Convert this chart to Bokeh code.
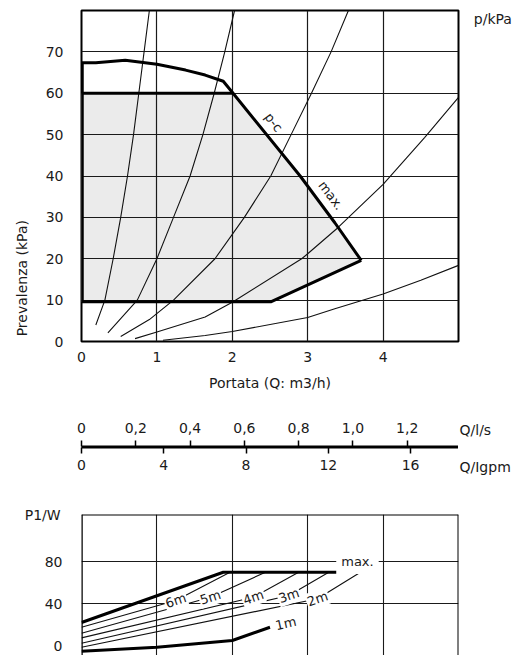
import math
from bokeh.plotting import figure
from bokeh.models import Range1d, LinearAxis, FixedTicker, Label, Span, CustomJSTickFormatter, Title
from bokeh.layouts import column, row
from bokeh.embed import file_html
from bokeh.resources import INLINE

FONT = "DejaVu Sans"
FS = "14px"
INK = "#1a1a1a"
LINE = "#111111"
SHADE = "#ebebeb"

# ---------------- top chart: Q (m3/h) vs H (kPa) ----------------
q_ticks = [0, 1, 2, 3, 4]
h_ticks = [0, 10, 20, 30, 40, 50, 60, 70]
q_grid = [1, 2, 3, 4]
h_grid = [10, 20, 30, 40, 50, 60, 70]
Q_MAX = 5
H_MAX = 80

sysA_q = [0.19, 0.31, 0.42, 0.52, 0.61, 0.69, 0.76, 0.83, 0.90]
sysA_h = [4.0, 10, 20, 30, 40, 50, 60, 70, 80]
sysB_q = [0.35, 0.74, 1.00, 1.22, 1.44, 1.61, 1.76, 1.90, 2.03]
sysB_h = [2.1, 10, 20, 30, 40, 50, 60, 70, 80]
sysC_q = [0.52, 0.90, 1.22, 1.77, 2.16, 2.51, 2.78, 3.05, 3.31, 3.54]
sysC_h = [1.2, 5.3, 10, 20, 30, 40, 50, 60, 70, 80]
sysD_q = [0.71, 1.00, 1.64, 2.00, 2.92, 3.00, 3.40, 4.00, 4.55, 5.00]
sysD_h = [0.7, 2.3, 5.9, 9.5, 20.0, 21.2, 27.5, 38.0, 49.3, 59.0]
sysE_q = [1.08, 1.64, 2.00, 3.00, 3.36, 4.00, 4.50, 5.00]
sysE_h = [0.3, 1.45, 2.4, 5.8, 7.9, 11.5, 14.8, 18.4]

max_q = [0.0, 0.19, 0.58, 1.00, 1.38, 1.64, 1.88, 2.01, 2.90, 3.36, 3.71]
max_h = [67.4, 67.4, 68.0, 67.0, 65.6, 64.4, 62.9, 60.0, 40.0, 28.7, 19.6]
pc_q = [0.0, 2.01]
pc_h = [60.0, 60.0]
min_q = [0.0, 2.51, 3.71]
min_h = [9.6, 9.6, 19.6]

# ---------------- flow scales ----------------
LS_PER_M3H = 1000.0 / 3600.0
IGPM_PER_M3H = 1000.0 / 4.54609 / 60.0
ls_ticks = [0, 0.2, 0.4, 0.6, 0.8, 1.0, 1.2]
igpm_ticks = [0, 4, 8, 12, 16]

# ---------------- bottom chart: Q (m3/h) vs P1 (W) ----------------
w_ticks = [0, 40, 80]
w_grid = [40, 80]
W_BOT, W_TOP = -9.5, 124.8

pmax_q = [0.0, 1.88, 3.70]
pmax_w = [21.9, 69.8, 69.8]
c6_q = [0.0, 1.25, 1.97]
c6_w = [17.4, 42.9, 69.8]
c5_q = [0.0, 1.71, 2.44]
c5_w = [11.7, 46.0, 69.8]
c4_q = [0.0, 2.28, 2.88]
c4_w = [7.3, 46.0, 69.8]
c3_q = [0.0, 2.75, 3.28]
c3_w = [2.2, 47.6, 69.8]
c2_q = [0.0, 3.13, 3.70]
c2_w = [-1.6, 44.5, 69.8]
c1_q = [0.0, 1.00, 2.00, 2.50]
c1_w = [-5.4, -1.6, 4.8, 17.4]

curve_labels = ["6m", "5m", "4m", "3m", "2m", "1m"]
curve_label_q = [1.25, 1.71, 2.28, 2.75, 3.13, 2.71]
curve_label_w = [42.9, 46.0, 46.0, 47.6, 44.5, 21.0]
curve_label_ang = [0.33, 0.31, 0.33, 0.33, 0.33, 0.22]


def style_axis(ax, standoff):
    ax.axis_line_color = None
    ax.major_tick_line_color = None
    ax.minor_tick_line_color = None
    ax.major_tick_out = 0
    ax.major_tick_in = 0
    ax.major_label_standoff = standoff
    ax.major_label_text_font = FONT
    ax.major_label_text_font_size = FS
    ax.major_label_text_color = INK


def label_style(ax, text, standoff):
    ax.axis_label = text
    ax.axis_label_text_font = FONT
    ax.axis_label_text_font_size = FS
    ax.axis_label_text_font_style = "normal"
    ax.axis_label_text_color = INK
    ax.axis_label_standoff = standoff


def try_set(obj, **kw):
    for k, v in kw.items():
        try:
            setattr(obj, k, v)
        except Exception:
            pass


def blank_panel(fw, fh, top_b, bot_b, xr, yr):
    f = figure(frame_width=fw, frame_height=fh, x_range=xr, y_range=yr,
               min_border_left=0, min_border_right=0, min_border_top=top_b, min_border_bottom=bot_b,
               x_axis_location=None, y_axis_location=None,
               toolbar_location=None, output_backend="svg")
    f.outline_line_color = None
    f.grid.visible = False
    return f


def text_title(text, align="left", offset=0, standoff=10, valign="bottom"):
    return Title(text=text, align=align, offset=offset, standoff=standoff, text_font=FONT,
                 text_font_size=FS, text_font_style="normal", text_color=INK,
                 vertical_align=valign)


# ======== TOP ========
top = figure(frame_width=377, frame_height=331,
             x_range=Range1d(0, Q_MAX), y_range=Range1d(0, H_MAX),
             min_border_left=49, min_border_right=2, min_border_top=10, min_border_bottom=59,
             toolbar_location=None, output_backend="svg")
top.outline_line_color = "black"
top.outline_line_width = 2
top.xaxis.ticker = FixedTicker(ticks=q_ticks)
top.yaxis.ticker = FixedTicker(ticks=h_ticks)
style_axis(top.xaxis[0], 10)
style_axis(top.yaxis[0], 18)
label_style(top.xaxis[0], "Portata (Q: m3/h)", 10)
top.xgrid.ticker = FixedTicker(ticks=q_grid)
top.ygrid.ticker = FixedTicker(ticks=h_grid)
for g in (top.xgrid[0], top.ygrid[0]):
    g.grid_line_color = "#1a1a1a"
    g.grid_line_width = 1.2
    g.grid_line_alpha = 1

region_q = [min_q[0]] + pc_q + max_q[8:] + [min_q[1]]
region_h = [min_h[0]] + pc_h + max_h[8:] + [min_h[1]]
patch = top.patch(region_q, region_h, fill_color=SHADE, line_color=None)
patch.level = "image"

for qq, hh in ((sysA_q, sysA_h), (sysB_q, sysB_h), (sysC_q, sysC_h),
               (sysD_q, sysD_h), (sysE_q, sysE_h)):
    top.line(qq, hh, line_color=LINE, line_width=1.1)

top.line(max_q, max_h, line_color="black", line_width=3, line_join="round")
top.line(pc_q, pc_h, line_color="black", line_width=3)
top.line(min_q, min_h, line_color="black", line_width=3, line_join="round")
top.line([min_q[0], max_q[0]], [min_h[0], max_h[0]], line_color="black", line_width=4.5)

ang = -0.92
top.add_layout(Label(x=2.55, y=53.0, text="p-c", angle=ang, text_align="center",
                     text_baseline="middle", text_font=FONT, text_font_size="13px",
                     text_color=INK))
top.add_layout(Label(x=3.31, y=35.3, text="max.", angle=ang, text_align="center",
                     text_baseline="middle", text_font=FONT, text_font_size="13px",
                     text_color=INK))

# y-axis title panel (left) and unit panel (right), frames aligned with the top chart
left_top = blank_panel(32, 331, 10, 59, Range1d(0, 32), Range1d(0, H_MAX))
left_top.add_layout(Label(x=21.7, y=15.3, text="Prevalenza (kPa)", angle=math.pi / 2,
                          text_align="center", text_baseline="middle", text_font=FONT,
                          text_font_size=FS, text_color=INK))
side_top = blank_panel(64, 331, 10, 59, Range1d(0, 64), Range1d(0, H_MAX))
side_top.add_layout(Label(x=13.3, y=78.0, text="p/kPa", text_align="left",
                          text_baseline="middle", text_font=FONT, text_font_size=FS,
                          text_color=INK))

# ======== MIDDLE (flow scales) ========
mid = figure(frame_width=377, frame_height=1,
             x_range=Range1d(0, Q_MAX), y_range=Range1d(0, 1),
             min_border_left=81, min_border_right=0, min_border_top=46, min_border_bottom=60,
             x_axis_location=None, y_axis_location=None,
             toolbar_location=None, output_backend="svg")
mid.outline_line_color = None
mid.grid.visible = False
mid.extra_x_ranges = {"ls": Range1d(0, Q_MAX * LS_PER_M3H),
                      "ig": Range1d(0, Q_MAX * IGPM_PER_M3H)}
ax_ls = LinearAxis(x_range_name="ls", ticker=FixedTicker(ticks=ls_ticks),
                   formatter=CustomJSTickFormatter(
                       code="return tick == 0 ? '0' : tick.toFixed(1).replace('.', ',');"))
ax_ig = LinearAxis(x_range_name="ig", ticker=FixedTicker(ticks=igpm_ticks))
for ax, so in ((ax_ls, 8), (ax_ig, 6)):
    ax.axis_line_color = "black"
    ax.axis_line_width = 2
    ax.major_tick_line_color = "black"
    ax.major_tick_line_width = 1.5
    ax.major_tick_out = 6
    ax.major_tick_in = 0
    ax.minor_tick_line_color = None
    ax.major_label_standoff = so
    ax.major_label_text_font = FONT
    ax.major_label_text_font_size = FS
    ax.major_label_text_color = INK
mid.add_layout(ax_ls, "above")
mid.add_layout(ax_ig, "below")

side_mid = blank_panel(66, 1, 46, 60, Range1d(0, 66), Range1d(0, 1))
side_mid.add_layout(text_title("Q/l/s", offset=1, standoff=14, valign="top"), "above")
side_mid.add_layout(text_title("Q/Igpm", offset=1, standoff=18), "below")

# ======== BOTTOM ========
bot = figure(frame_width=377, frame_height=141,
             x_range=Range1d(0, Q_MAX), y_range=Range1d(W_BOT, W_TOP),
             min_border_left=81, min_border_right=2, min_border_top=7, min_border_bottom=0,
             x_axis_location=None, toolbar_location=None, output_backend="svg")
bot.outline_line_color = None
bot.yaxis.ticker = FixedTicker(ticks=w_ticks)
style_axis(bot.yaxis[0], 19)
label_style(bot.yaxis[0], "P1/W", -19)
try_set(bot.yaxis[0], axis_label_align="end", axis_label_orientation="horizontal")
bot.yaxis[0].bounds = (W_BOT, 116.7)
bot.xgrid.ticker = FixedTicker(ticks=q_grid)
bot.ygrid.ticker = FixedTicker(ticks=w_grid)
for g in (bot.xgrid[0], bot.ygrid[0]):
    g.grid_line_color = "#1a1a1a"
    g.grid_line_width = 1.1
    g.grid_line_alpha = 1
bot.add_layout(Span(location=0, dimension="height", line_color="black", line_width=2.5))
bot.add_layout(Span(location=Q_MAX, dimension="height", line_color="black", line_width=2))
bot.add_layout(Span(location=W_TOP, dimension="width", line_color="black", line_width=2))

for qq, ww in ((c6_q, c6_w), (c5_q, c5_w), (c4_q, c4_w), (c3_q, c3_w), (c2_q, c2_w)):
    bot.line(qq, ww, line_color=LINE, line_width=1.1)
bot.line(pmax_q, pmax_w, line_color="black", line_width=3, line_join="round")
bot.line(c1_q, c1_w, line_color="black", line_width=3)

for t, qq, ww, a in zip(curve_labels, curve_label_q, curve_label_w, curve_label_ang):
    bot.add_layout(Label(x=qq, y=ww, text=t, angle=a, text_align="center",
                         text_baseline="middle", text_font=FONT, text_font_size="13px",
                         text_color=INK, background_fill_color="white", padding=1))
bot.add_layout(Label(x=3.66, y=80, text="max.", text_align="center", text_baseline="middle",
                     text_font=FONT, text_font_size="13px", text_color=INK,
                     background_fill_color="white", padding=5))

layout = column(row(left_top, top, side_top), row(mid, side_mid), bot)
open("out.html", "w").write(file_html(layout, INLINE))
